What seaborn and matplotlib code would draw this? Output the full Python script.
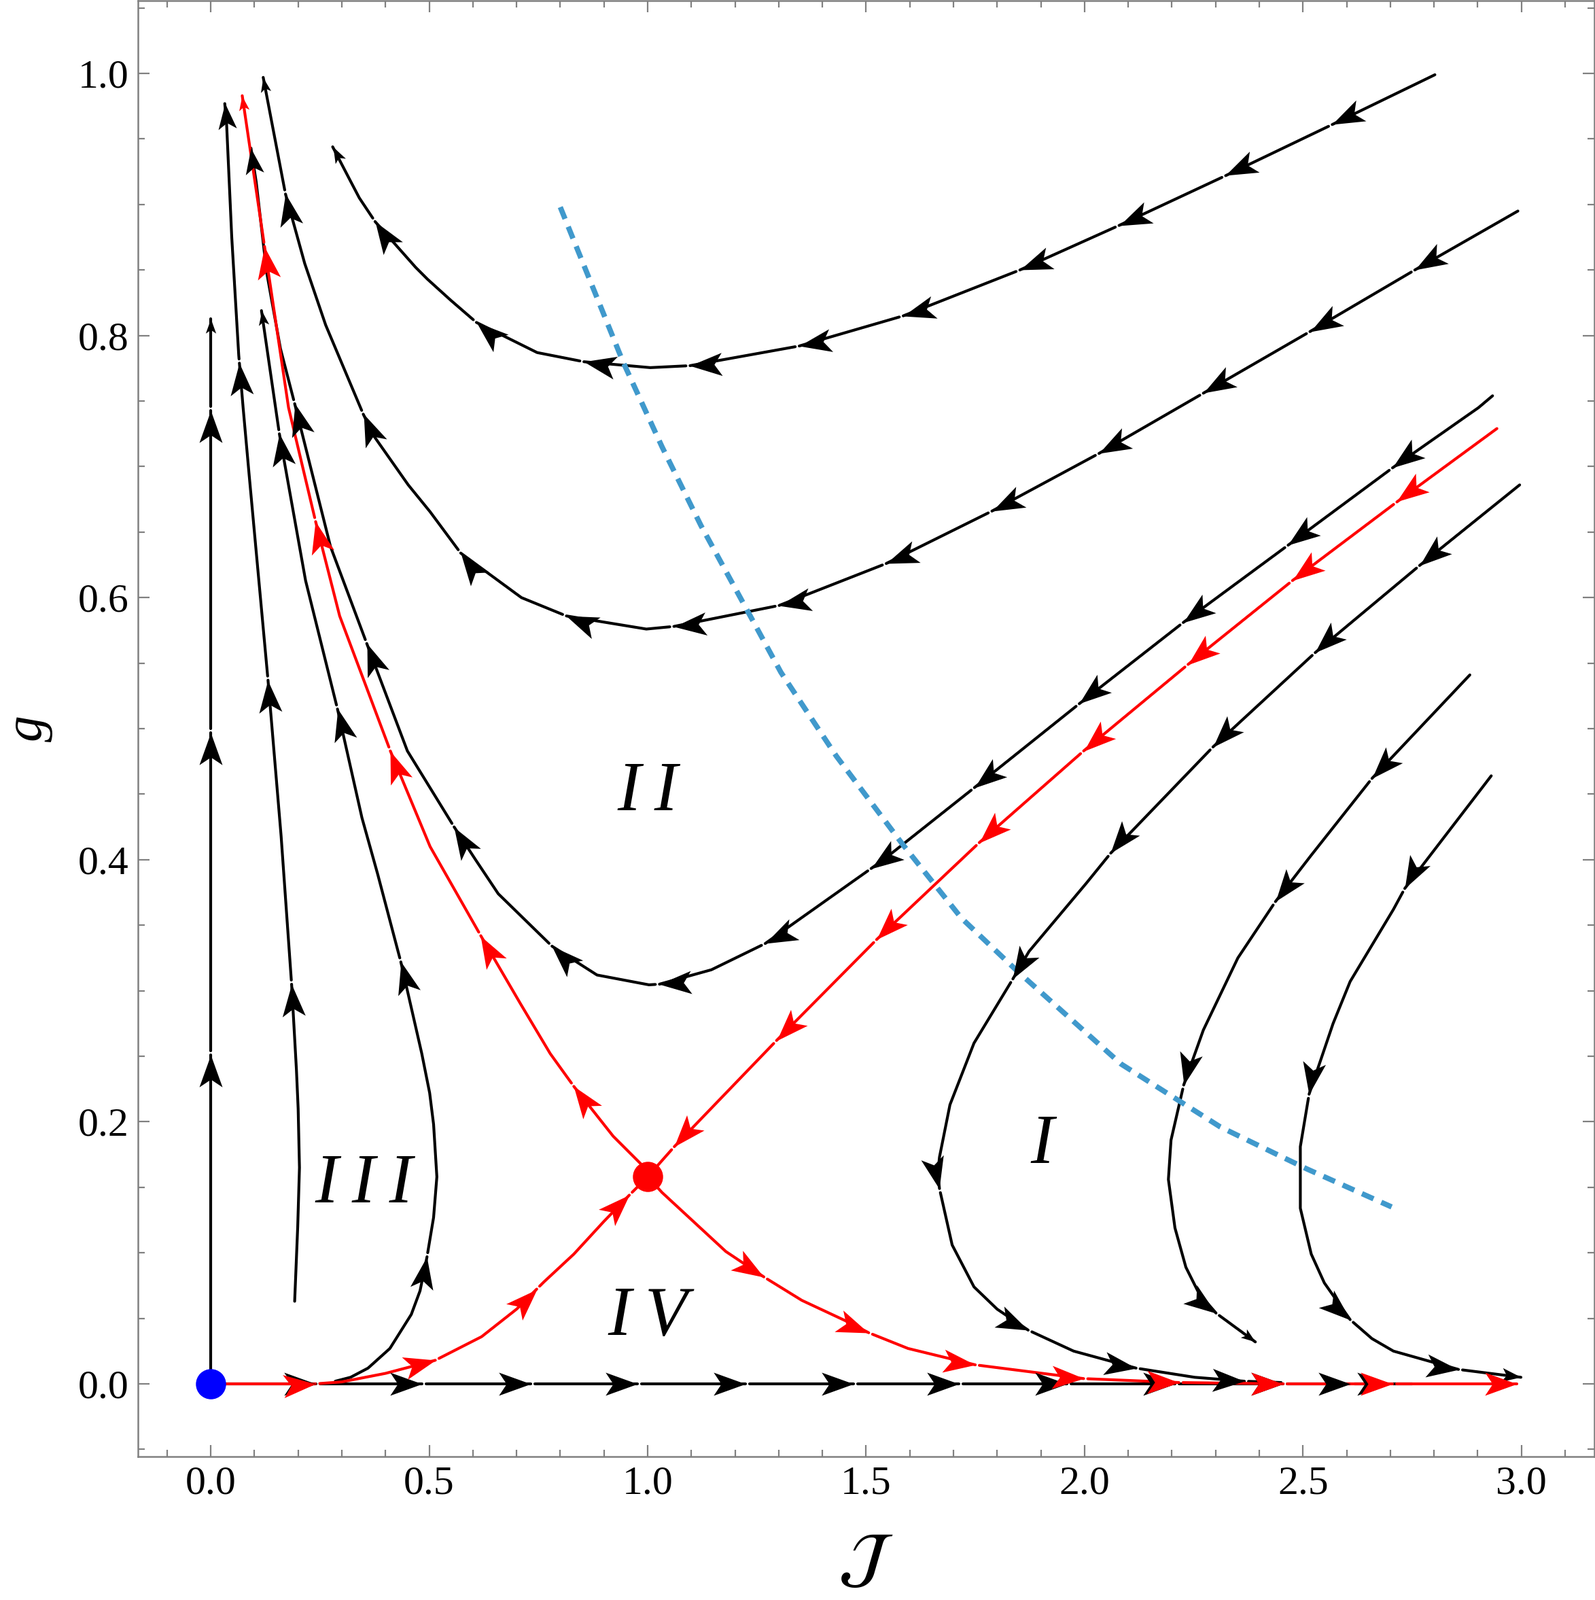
import numpy as np
import pandas as pd
import matplotlib
matplotlib.use("Agg")
import matplotlib.pyplot as plt
import seaborn as sns
from matplotlib.markers import MarkerStyle
from matplotlib.path import Path
from matplotlib.transforms import Affine2D
from matplotlib.ticker import MultipleLocator, FormatStrFormatter

# ---- streamlines, (J, g) points in the direction of the flow ----
line_A = [(0.0, 0.0), (0.0, 0.813)]
tips_A = [(0.0, 0.251), (0.0, 0.497), (0.0, 0.743)]

line_B = [(0.192, 0.063), (0.199, 0.12), (0.203, 0.165), (0.200, 0.21), (0.196, 0.240),
          (0.185, 0.305), (0.161, 0.418), (0.131, 0.537), (0.088, 0.693), (0.074, 0.745),
          (0.064, 0.785), (0.048, 0.875), (0.036, 0.963), (0.032, 0.977)]
tips_B = [(0.185, 0.305), (0.131, 0.537), (0.067, 0.779)]

line_C = [(0.285, 0.002), (0.32, 0.005), (0.36, 0.012), (0.41, 0.027), (0.459, 0.053),
          (0.479, 0.071), (0.495, 0.097), (0.510, 0.127), (0.5175, 0.158), (0.510, 0.198),
          (0.501, 0.222), (0.483, 0.252), (0.435, 0.322), (0.382, 0.389), (0.346, 0.432),
          (0.29, 0.515), (0.217, 0.613), (0.157, 0.725), (0.116, 0.819)]
tips_C = [(0.495, 0.097), (0.435, 0.322), (0.29, 0.515), (0.157, 0.725)]

line_D = [(2.934, 0.754), (2.902, 0.745), (2.705, 0.699), (2.466, 0.640), (2.226, 0.581),
          (1.988, 0.519), (1.748, 0.455), (1.540, 0.400), (1.269, 0.336), (1.146, 0.316),
          (1.027, 0.305), (1.003, 0.3045), (0.884, 0.312), (0.781, 0.334), (0.658, 0.374),
          (0.606, 0.400), (0.557, 0.425), (0.450, 0.483), (0.357, 0.565), (0.274, 0.639),
          (0.192, 0.748), (0.1595, 0.790), (0.128, 0.848), (0.104, 0.917), (0.092, 0.943)]
tips_D = [(2.705, 0.699), (2.466, 0.640), (2.226, 0.581), (1.988, 0.519), (1.748, 0.455),
          (1.512, 0.393), (1.269, 0.336), (1.027, 0.305), (0.781, 0.334), (0.557, 0.425),
          (0.357, 0.565), (0.192, 0.748)]

line_E = [(2.992, 0.895), (2.756, 0.850), (2.516, 0.803), (2.272, 0.756), (2.033, 0.710),
          (1.788, 0.666), (1.546, 0.626), (1.301, 0.594), (1.060, 0.578), (0.997, 0.576),
          (0.814, 0.586), (0.711, 0.600), (0.572, 0.634), (0.502, 0.6655), (0.452, 0.686),
          (0.374, 0.723), (0.349, 0.740), (0.263, 0.808), (0.215, 0.855), (0.171, 0.908),
          (0.12, 0.997)]
tips_E = [(2.756, 0.850), (2.516, 0.803), (2.272, 0.756), (2.033, 0.710), (1.788, 0.666),
          (1.546, 0.626), (1.301, 0.594), (1.060, 0.578), (0.814, 0.586), (0.572, 0.634),
          (0.349, 0.740), (0.171, 0.908)]

line_F = [(2.802, 0.999), (2.567, 0.961), (2.323, 0.922), (2.079, 0.884), (1.852, 0.850),
          (1.585, 0.815), (1.347, 0.792), (1.097, 0.777), (1.006, 0.7755), (0.854, 0.780),
          (0.747, 0.787), (0.608, 0.810), (0.549, 0.827), (0.496, 0.843), (0.469, 0.852),
          (0.376, 0.887), (0.340, 0.905), (0.318, 0.919), (0.279, 0.944)]
tips_F = [(2.567, 0.961), (2.323, 0.922), (2.079, 0.884), (1.852, 0.850), (1.585, 0.815),
          (1.347, 0.792), (1.097, 0.777), (0.854, 0.780), (0.608, 0.810), (0.376, 0.887)]

line_G = [(2.996, 0.686), (2.767, 0.6245), (2.528, 0.558), (2.294, 0.486), (2.060, 0.405),
          (2.004, 0.382), (1.873, 0.330), (1.836, 0.309), (1.747, 0.260), (1.692, 0.213),
          (1.668, 0.173), (1.664, 0.160), (1.668, 0.149), (1.697, 0.106), (1.747, 0.074),
          (1.800, 0.057), (1.871, 0.041), (1.975, 0.025), (2.118, 0.012), (2.252, 0.005),
          (2.366, 0.002), (2.45, 0.001)]
tips_G = [(2.767, 0.6245), (2.528, 0.558), (2.294, 0.486), (2.060, 0.405), (1.836, 0.309),
          (1.668, 0.149), (1.871, 0.041), (2.118, 0.012), (2.366, 0.002)]

line_H = [(2.882, 0.541), (2.658, 0.462), (2.518, 0.403), (2.437, 0.368), (2.351, 0.325),
          (2.272, 0.270), (2.227, 0.228), (2.198, 0.186), (2.192, 0.156), (2.207, 0.119),
          (2.232, 0.089), (2.262, 0.069), (2.301, 0.054), (2.391, 0.032)]
tips_H = [(2.658, 0.462), (2.437, 0.368), (2.227, 0.228), (2.301, 0.054)]

line_K = [(2.931, 0.464), (2.733, 0.378), (2.707, 0.362), (2.608, 0.307), (2.569, 0.275),
          (2.514, 0.221), (2.494, 0.181), (2.494, 0.134), (2.519, 0.099), (2.549, 0.077),
          (2.608, 0.049), (2.658, 0.0345), (2.707, 0.025), (2.856, 0.011), (2.999, 0.005)]
tips_K = [(2.733, 0.378), (2.514, 0.221), (2.608, 0.049), (2.856, 0.011)]

line_axis = [(0.0, 0.0), (2.75, 0.0)]
tips_axis = [(j, 0.0) for j in [0.241, 0.484, 0.733, 0.977, 1.224, 1.471, 1.713,
                                1.960, 2.207, 2.455, 2.608, 2.697]]

# separatrices through the saddle point
red_left = [(0.0, 0.0), (0.24, 0.0), (0.30, 0.0015), (0.40, 0.008), (0.514, 0.018),
            (0.62, 0.036), (0.70, 0.057), (0.762, 0.0776), (0.831, 0.099), (0.9, 0.124),
            (0.958, 0.144), (1.0, 0.158)]
tips_red_left = [(0.24, 0.0), (0.514, 0.018), (0.747, 0.072), (0.958, 0.144)]

red_up = [(1.0, 0.158), (0.984, 0.168), (0.921, 0.189), (0.831, 0.227), (0.777, 0.252),
          (0.709, 0.290), (0.618, 0.342), (0.502, 0.410), (0.411, 0.483), (0.295, 0.586),
          (0.240, 0.658), (0.178, 0.745), (0.123, 0.868), (0.072, 0.983)]
tips_red_up = [(0.831, 0.227), (0.618, 0.342), (0.411, 0.483), (0.240, 0.658), (0.123, 0.868)]

red_in = [(2.944, 0.729), (2.715, 0.673), (2.476, 0.613), (2.237, 0.549), (1.998, 0.483),
          (1.759, 0.413), (1.524, 0.339), (1.295, 0.262), (1.061, 0.181), (1.0, 0.158)]
tips_red_in = red_in[1:-1]

red_out = [(1.0, 0.158), (1.033, 0.146), (1.179, 0.101), (1.266, 0.0816), (1.353, 0.0637),
           (1.457, 0.0475), (1.506, 0.039), (1.596, 0.027), (1.75, 0.0145), (1.998, 0.004),
           (2.216, 0.001), (2.455, 0.0), (2.99, 0.0)]
tips_red_out = [(1.266, 0.0816), (1.506, 0.039), (1.75, 0.0145), (1.998, 0.004),
                (2.216, 0.001), (2.455, 0.0), (2.705, 0.0)]

# dashed blue curve
dash_J = [0.800, 0.9435, 1.033, 1.122, 1.212, 1.305, 1.432, 1.583, 1.718, 1.846,
          2.084, 2.311, 2.509, 2.703]
dash_g = [0.898, 0.780, 0.715, 0.655, 0.600, 0.543, 0.479, 0.412, 0.3555, 0.315,
          0.244, 0.196, 0.164, 0.135]

fixed_J = [0.0, 1.0]
fixed_g = [0.0, 0.158]

region_text = ["I\u2009I", "I\u2009I\u2009I", "I\u2009V", "I"]
region_J = [1.0, 0.351, 1.0, 1.903]
region_g = [0.438, 0.1385, 0.0375, 0.1685]

# (line, tips, colour, end-arrow scale: 0 = none)
streams = [
    (line_axis, tips_axis, "black", 0),
    (line_A, tips_A, "black", 0.45),
    (line_B, tips_B, "black", 0.8),
    (line_C, tips_C, "black", 0.45),
    (line_D, tips_D, "black", 0.8),
    (line_E, tips_E, "black", 0.45),
    (line_F, tips_F, "black", 0.5),
    (line_G, tips_G, "black", 0),
    (line_H, tips_H, "black", 0.45),
    (line_K, tips_K, "black", 0.6),
    (red_left, tips_red_left, "red", 0),
    (red_up, tips_red_up, "red", 0.45),
    (red_in, tips_red_in, "red", 0),
    (red_out, tips_red_out, "red", 1.0),
]

# ---- style ----
sns.set_style("ticks")
plt.rcParams["font.family"] = ["Liberation Serif", "DejaVu Serif"]
plt.rcParams["mathtext.fontset"] = "stix"
plt.rcParams["text.color"] = "black"
plt.rcParams["axes.labelcolor"] = "black"
grey = "#808080"

fig = plt.figure(figsize=(11.735, 11.77), dpi=200)
ax = fig.add_axes([0.0865, 0.0896, 0.9130, 0.9100])
ax.set_xlim(-1 / 6, 3 + 1 / 6)
ax.set_ylim(-1 / 18, 1 + 1 / 18)

head = Path([(0, 0), (-1, 0.36), (-0.76, 0), (-1, -0.36), (0, 0)],
            [Path.MOVETO, Path.LINETO, Path.LINETO, Path.LINETO, Path.CLOSEPOLY])
GAP = 6.0  # px of line left blank after each arrow tip


def draw_head(xy_disp, ang, col, scale):
    xy = ax.transData.inverted().transform(xy_disp)
    m = MarkerStyle(head, transform=Affine2D().rotate_deg(ang))
    ax.plot([xy[0]], [xy[1]], marker=m, markersize=34 * scale, color=col,
            markeredgewidth=0, linestyle="none", zorder=5 if col == "red" else 4.5)


def stream(pts, tips, col, endsc):
    d = ax.transData.transform(np.array(pts))
    seg = np.diff(d, axis=0)
    slen = np.hypot(seg[:, 0], seg[:, 1])
    cum = np.concatenate([[0.0], np.cumsum(slen)])

    def at(a):
        i = int(np.clip(np.searchsorted(cum, a, side="right") - 1, 0, len(seg) - 1))
        s = (a - cum[i]) / slen[i] if slen[i] > 0 else 0.0
        return d[i] + s * seg[i], i

    heads = []
    for tp in tips:
        t = ax.transData.transform(tp)
        best = (1e18, 0, 0.0)
        for i in range(len(seg)):
            if slen[i] == 0:
                continue
            s = np.clip(np.dot(t - d[i], seg[i]) / slen[i] ** 2, 0, 1)
            dist = np.sum((d[i] + s * seg[i] - t) ** 2)
            if dist < best[0]:
                best = (dist, i, s)
        heads.append(cum[best[1]] + best[2] * slen[best[1]])
    heads.sort()

    # pieces of line between the gaps
    rows, start, k = [], 0.0, 0
    for a in heads + [cum[-1]]:
        if a > start:
            piece = [at(start)[0]] + [d[j] for j in range(len(d)) if start < cum[j] < a] + [at(a)[0]]
            for p in ax.transData.inverted().transform(np.array(piece)):
                rows.append((p[0], p[1], k))
            k += 1
        start = a + GAP
    df = pd.DataFrame(rows, columns=["J", "g", "piece"])
    sns.lineplot(data=df, x="J", y="g", units="piece", estimator=None, sort=False,
                 color=col, linewidth=1.5, ax=ax, zorder=3 if col == "red" else 2)

    for a in heads:
        p, i = at(a)
        draw_head(p, np.degrees(np.arctan2(seg[i][1], seg[i][0])), col, 1.0)
    if endsc > 0:
        draw_head(d[-1], np.degrees(np.arctan2(seg[-1][1], seg[-1][0])), col, endsc)


for pts, tips, col, endsc in streams:
    stream(pts, tips, col, endsc)

sns.lineplot(x=dash_J, y=dash_g, sort=False, estimator=None, color="#4099cc",
             linewidth=2.8, linestyle=(0, (2.4, 1.6)), ax=ax, zorder=4)

ax.plot(fixed_J[:1], fixed_g[:1], "o", color="#0000ff", ms=16, mew=0, zorder=6)
ax.plot(fixed_J[1:], fixed_g[1:], "o", color="#ff0000", ms=16, mew=0, zorder=6)

for txt, j, gg in zip(region_text, region_J, region_g):
    ax.text(j, gg, txt, fontsize=37, fontstyle="italic", color="black",
            ha="center", va="baseline", zorder=7)

# axes
ax.set_xlim(-1 / 6, 3 + 1 / 6)
ax.set_ylim(-1 / 18, 1 + 1 / 18)
ax.xaxis.set_major_locator(MultipleLocator(0.5))
ax.xaxis.set_minor_locator(MultipleLocator(0.1))
ax.yaxis.set_major_locator(MultipleLocator(0.2))
ax.yaxis.set_minor_locator(MultipleLocator(0.05))
ax.xaxis.set_major_formatter(FormatStrFormatter("%.1f"))
ax.yaxis.set_major_formatter(FormatStrFormatter("%.1f"))
ax.tick_params(which="both", direction="in", top=True, right=True, color=grey,
               width=0.8, labelsize=21.5, labelcolor="black", pad=5)
ax.tick_params(which="major", length=6)
ax.tick_params(which="minor", length=3.5)
for s in ax.spines.values():
    s.set_color(grey)
    s.set_linewidth(0.9)

ax.set_xlabel(r"$\mathcal{J}$", fontsize=36, labelpad=16, color="black")
ax.set_ylabel("g", fontsize=28, fontstyle="italic", labelpad=13, color="black")

fig.savefig("out.png", dpi=200, facecolor="white")
